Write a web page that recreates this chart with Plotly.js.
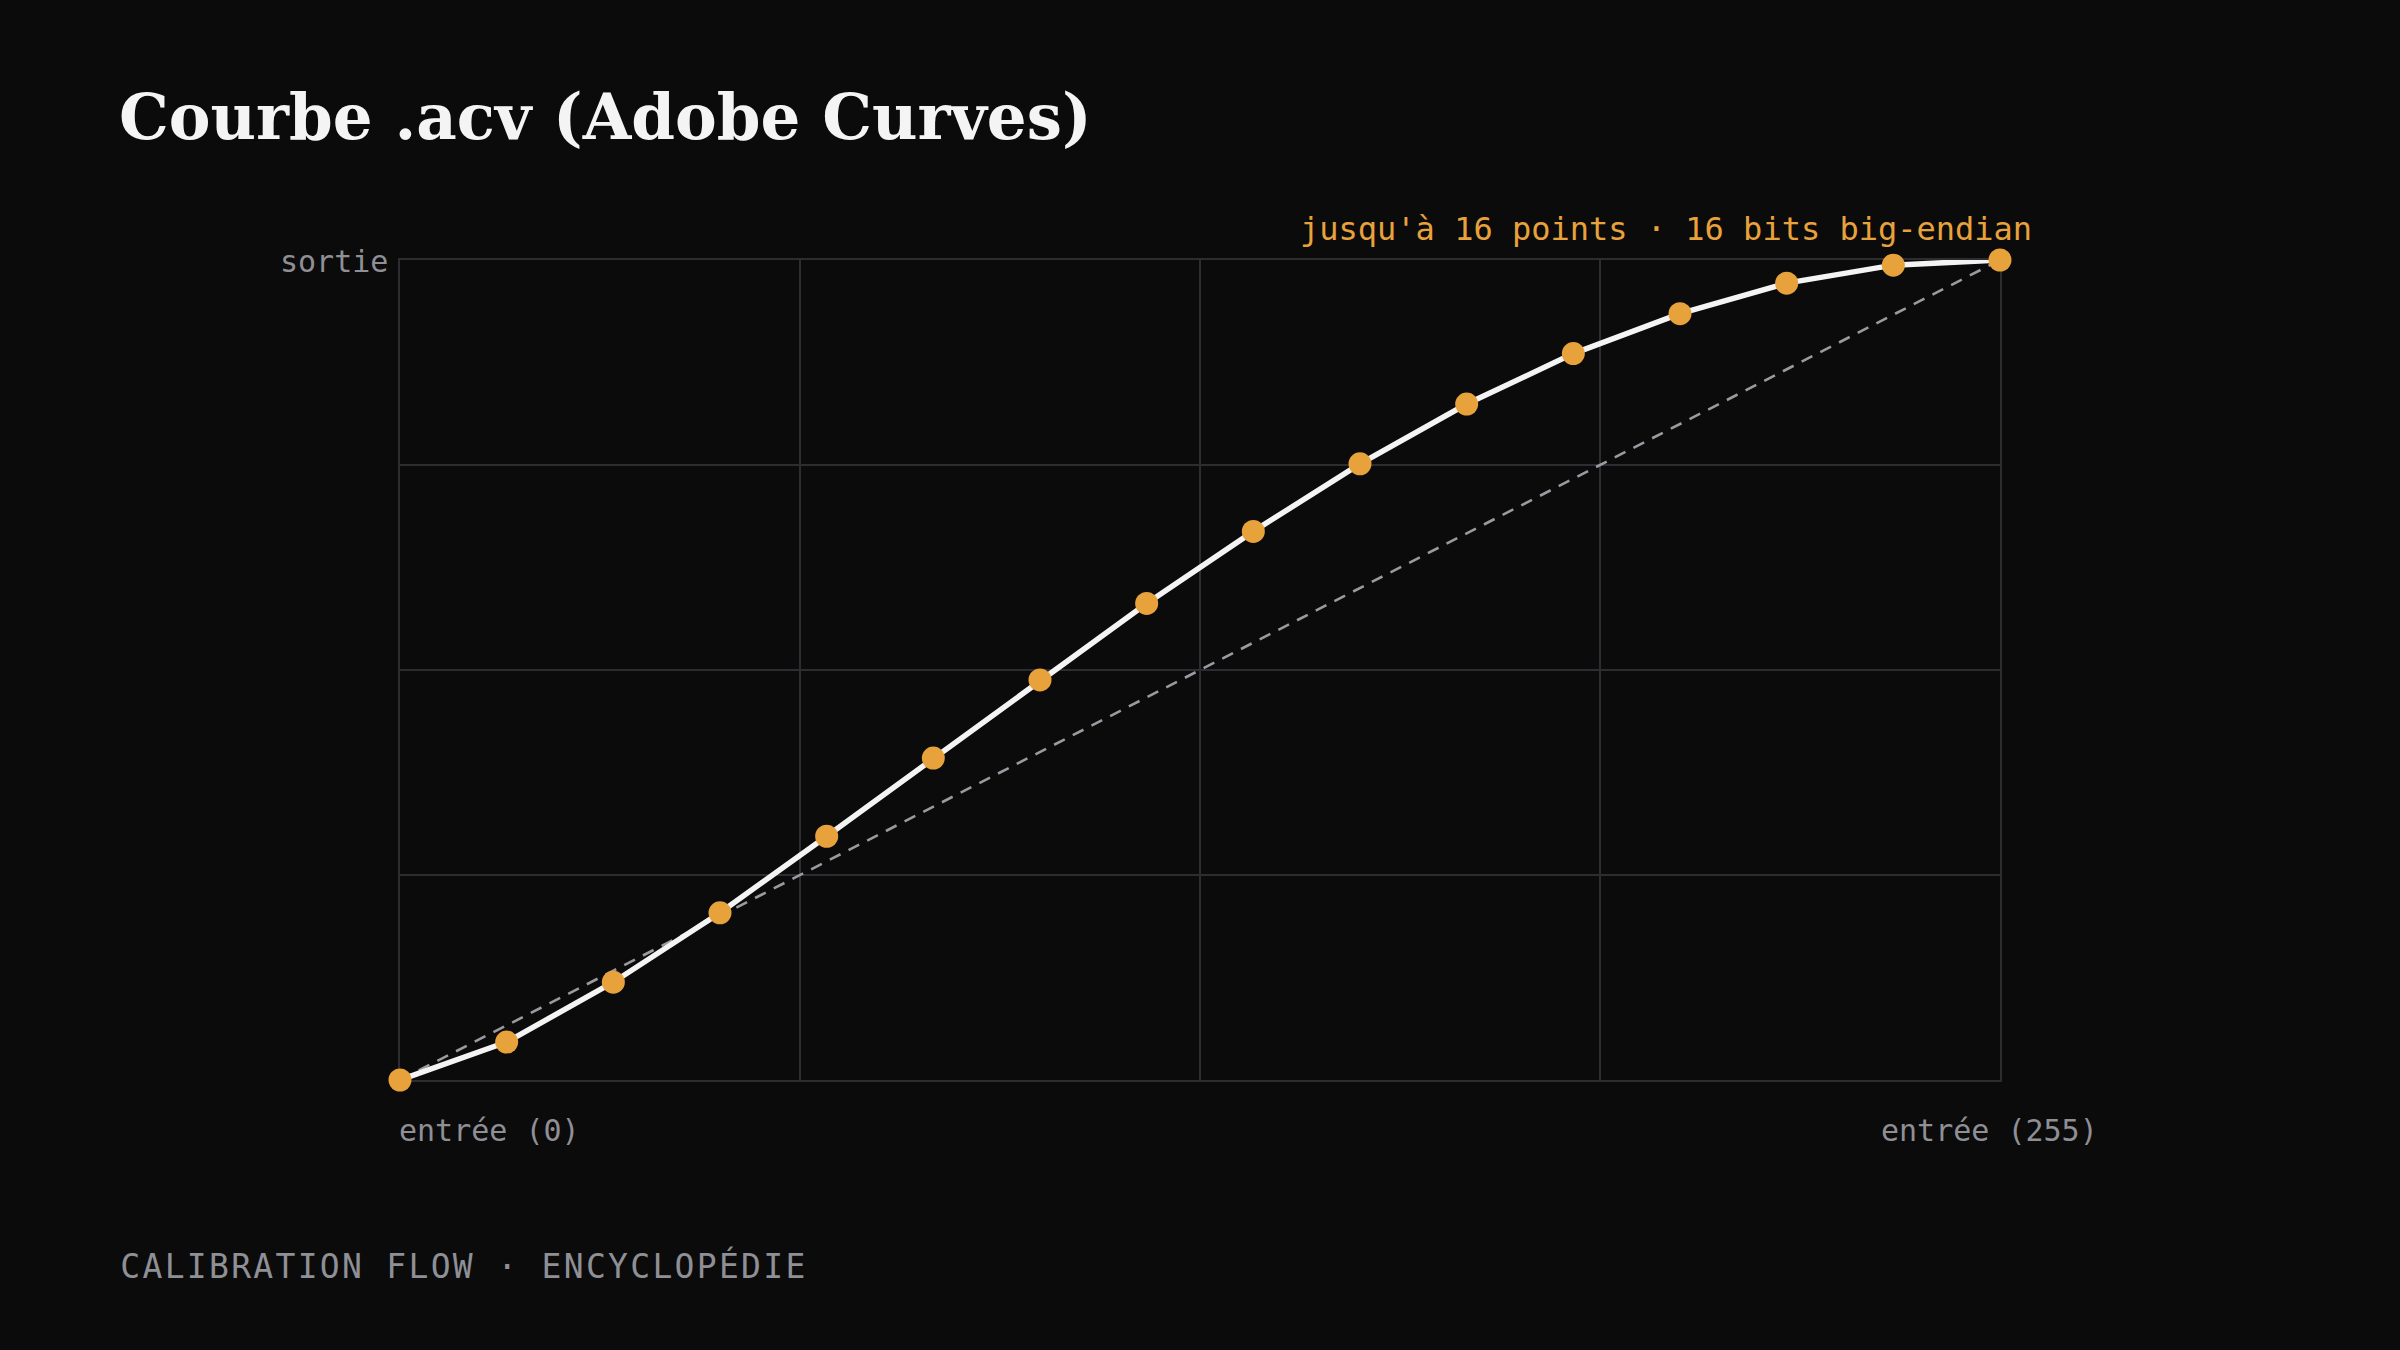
<!DOCTYPE html>
<html>
<head>
<meta charset="utf-8">
<script src="https://cdn.plot.ly/plotly-3.0.1.min.js"></script>
<style>
  html, body { margin: 0; padding: 0; background: #0b0b0b; }
  #chart { width: 2400px; height: 1350px; }
  .annotation[data-index="4"] text { letter-spacing: 2.3px; }
</style>
</head>
<body>
<div id="chart"></div>
<script>
// Input levels (0..255) of the 16 control points
const inputLevels = [0, 17, 34, 51, 68, 85, 102, 119, 136, 153, 170, 187, 204, 221, 238, 255];
// Output levels
const outputLevels = [0, 11.8, 30.4, 52.0, 75.8, 100.1, 124.4, 148.2, 170.6, 191.6, 210.2, 225.9, 238.3, 247.8, 253.4, 255];
// Identity reference line
const identityX = [0, 255];
const identityY = [0, 255];
// Texts
const titleText = "Courbe .acv (Adobe Curves)";
const noteText = "jusqu'à 16 points · 16 bits big-endian";
const yLabel = "sortie";
const xLabelMin = "entrée (0)";
const xLabelMax = "entrée (255)";
const footerText = "CALIBRATION FLOW · ENCYCLOPÉDIE";
const gridTicks = [0, 63.75, 127.5, 191.25, 255];

const mono = "'DejaVu Sans Mono', monospace";
const grey = "#8f8f96";
const orange = "#e8a23c";
const gridColor = "#2c2c31";

const traces = [
  {
    x: identityX, y: identityY, type: "scatter", mode: "lines",
    line: { color: "#9a9aa0", width: 2.6, dash: "12px,9px" },
    hoverinfo: "skip", cliponaxis: false
  },
  {
    x: inputLevels, y: outputLevels, type: "scatter", mode: "lines+markers",
    line: { color: "#f4f4f4", width: 5.5 },
    marker: { color: orange, size: 23, line: { width: 0 } },
    cliponaxis: false
  }
];

const layout = {
  width: 2400, height: 1350,
  paper_bgcolor: "#0b0b0b", plot_bgcolor: "#0b0b0b",
  showlegend: false,
  margin: { l: 400, r: 400, t: 260, b: 270, pad: 0 },
  title: {
    text: "<b>" + titleText + "</b>",
    font: { family: "Georgia, 'DejaVu Serif', serif", size: 62.6, color: "#f4f4f4" },
    xref: "container", x: 119 / 2400, xanchor: "left",
    yref: "container", y: 1 - 117 / 1350, yanchor: "middle"
  },
  xaxis: {
    range: [0, 255], tickvals: gridTicks, showticklabels: false, ticks: "",
    showgrid: true, gridcolor: gridColor, gridwidth: 2,
    zeroline: false, showline: true, mirror: true, linecolor: gridColor, linewidth: 2,
    layer: "below traces", fixedrange: true
  },
  yaxis: {
    range: [0, 255], tickvals: gridTicks, showticklabels: false, ticks: "",
    showgrid: true, gridcolor: gridColor, gridwidth: 2,
    zeroline: false, showline: true, mirror: true, linecolor: gridColor, linewidth: 2,
    layer: "below traces", fixedrange: true
  },
  annotations: [
    { text: noteText, xref: "paper", yref: "paper", x: 1, y: 1, xanchor: "right", yanchor: "middle",
      xshift: 34, yshift: 31, showarrow: false, font: { family: mono, size: 32, color: orange } },
    { text: yLabel, xref: "paper", yref: "paper", x: 0, y: 1, xanchor: "right", yanchor: "middle",
      xshift: -10, yshift: -1, showarrow: false, font: { family: mono, size: 30, color: grey } },
    { text: xLabelMin, xref: "paper", yref: "paper", x: 0, y: 0, xanchor: "left", yanchor: "middle",
      xshift: -3, yshift: -50, showarrow: false, font: { family: mono, size: 30, color: grey } },
    { text: xLabelMax, xref: "paper", yref: "paper", x: 1, y: 0, xanchor: "right", yanchor: "middle",
      xshift: 100, yshift: -50, showarrow: false, font: { family: mono, size: 30, color: grey } },
    { text: footerText, xref: "paper", yref: "paper", x: 0, y: 0, xanchor: "left", yanchor: "middle",
      xshift: -246, yshift: -186, showarrow: false, font: { family: mono, size: 33, color: grey } }
  ]
};

Plotly.newPlot("chart", traces, layout, { displayModeBar: false, staticPlot: true });
</script>
</body>
</html>
